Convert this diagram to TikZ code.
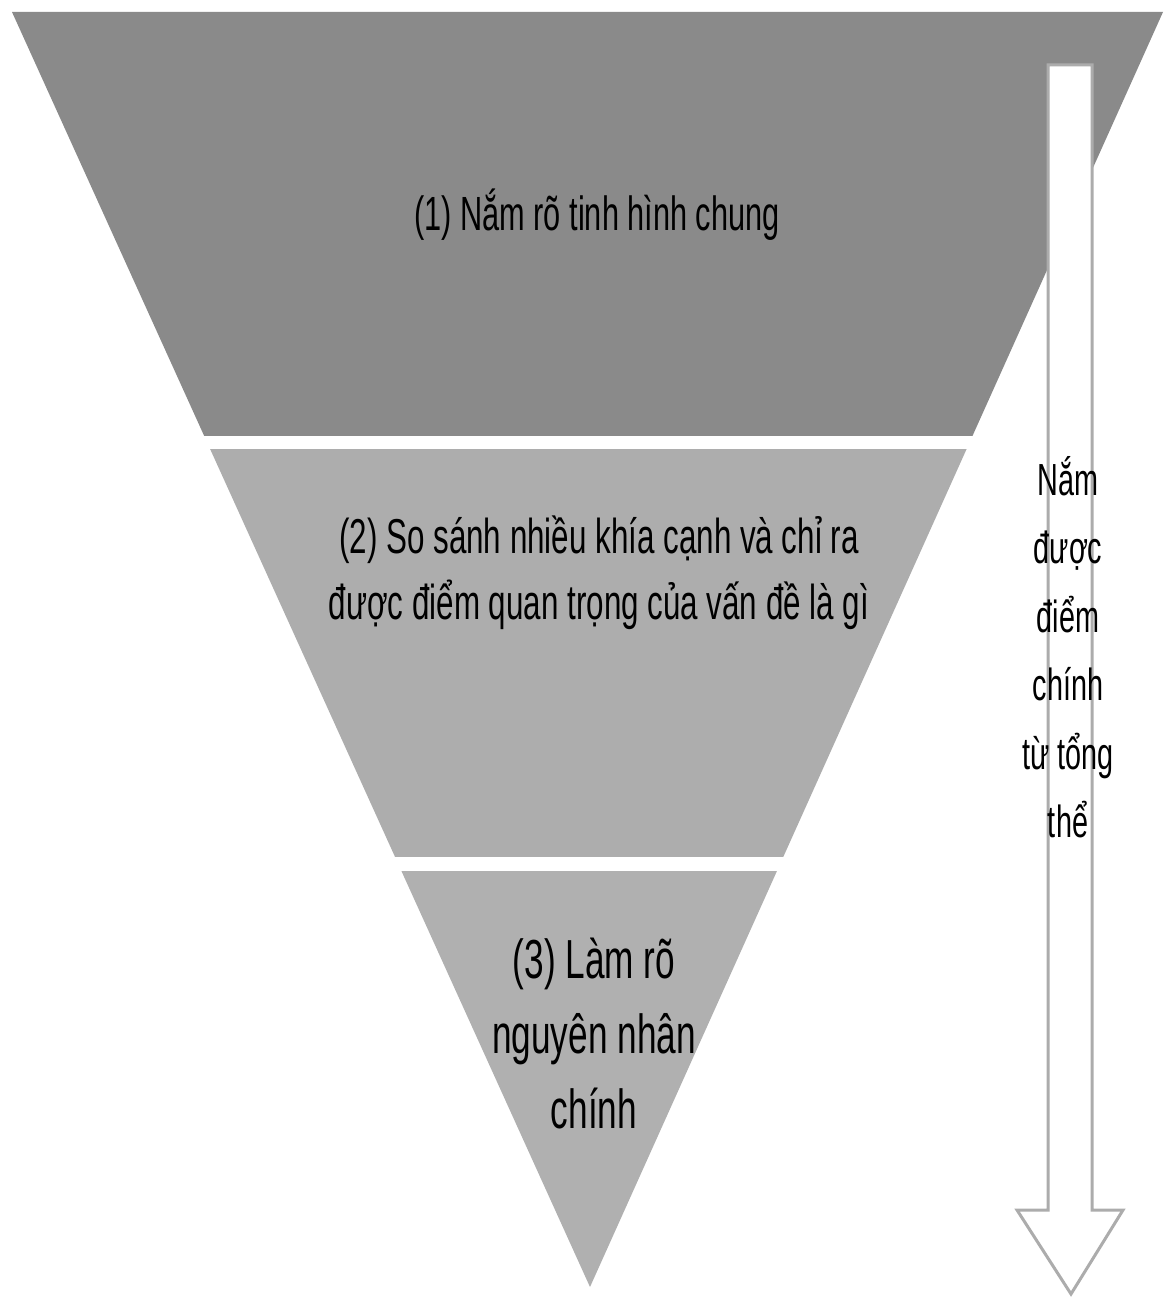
\documentclass[tikz,border=0pt]{standalone}
\usepackage{fontspec}
\setmainfont{Liberation Sans}
\newfontfamily\narrowfont[FakeStretch=0.64]{Liberation Sans}
\usepackage{tikz}
\usetikzlibrary{calc, positioning}
\definecolor{banddark}{RGB}{138,138,138}
\definecolor{bandmid}{RGB}{173,173,173}
\definecolor{bandlight}{RGB}{176,176,176}
\definecolor{arrowgray}{RGB}{172,172,172}
\tikzset{
  toptext/.style={align=center, inner sep=0pt, text=black,
    font=\narrowfont\fontsize{48}{60}\selectfont},
  midtext/.style={align=center, inner sep=0pt, text=black,
    font=\narrowfont\fontsize{49}{66}\selectfont},
  lowtext/.style={align=center, inner sep=0pt, text=black,
    font=\narrowfont\fontsize{55}{75}\selectfont},
  sidetext/.style={align=center, inner sep=0pt, text=black,
    font=\narrowfont\fontsize{45}{68.5}\selectfont},
  hollowarrow/.style={draw=arrowgray, fill=white, line width=3pt, line join=miter}
}

\begin{document}
\begin{tikzpicture}[x=1pt, y=-1pt]
  \useasboundingbox (0,0) rectangle (1164,1300);

  % Corners of the inverted triangle
  \coordinate (TL) at (12,12);
  \coordinate (TR) at (1163,12);
  \coordinate (tip) at (590,1287);

  % Three bands, separated by white gaps
  \begin{scope}
    \clip (TL) -- (TR) -- (tip) -- cycle;
    \fill[banddark] (0,0) rectangle (1164,436);
    \fill[bandmid] (0,449) rectangle (1164,857);
    \fill[bandlight] (0,871) rectangle (1164,1300);
  \end{scope}

  % Band labels
  \node[toptext] (step1) at (597,215) {(1) Nắm rõ tinh hình chung};
  \node[midtext] (step2) at (599,573) {(2) So sánh nhiều khía cạnh và chỉ ra\\được điểm quan trọng của vấn đề là gì};
  \node[lowtext] (step3) at (594,1034) {(3) Làm rõ\\nguyên nhân\\chính};

  % Hollow arrow on the right
  \coordinate (arrtop) at (1070,65);
  \coordinate (arrhead) at (1070,1210);
  \coordinate (arrtip) at (1071,1294);
  \draw[hollowarrow] ($(arrtop)+(-22,0)$) -- ($(arrtop)+(22,0)$)
    -- ($(arrhead)+(22,0)$) -- ($(arrhead)+(53,0)$) -- (arrtip)
    -- ($(arrhead)+(-53,0)$) -- ($(arrhead)+(-22,0)$) -- cycle;
  \node[sidetext] (aim) at (1068,647) {Nắm\\được\\điểm\\chính\\từ tổng\\thể};
\end{tikzpicture}
\end{document}
